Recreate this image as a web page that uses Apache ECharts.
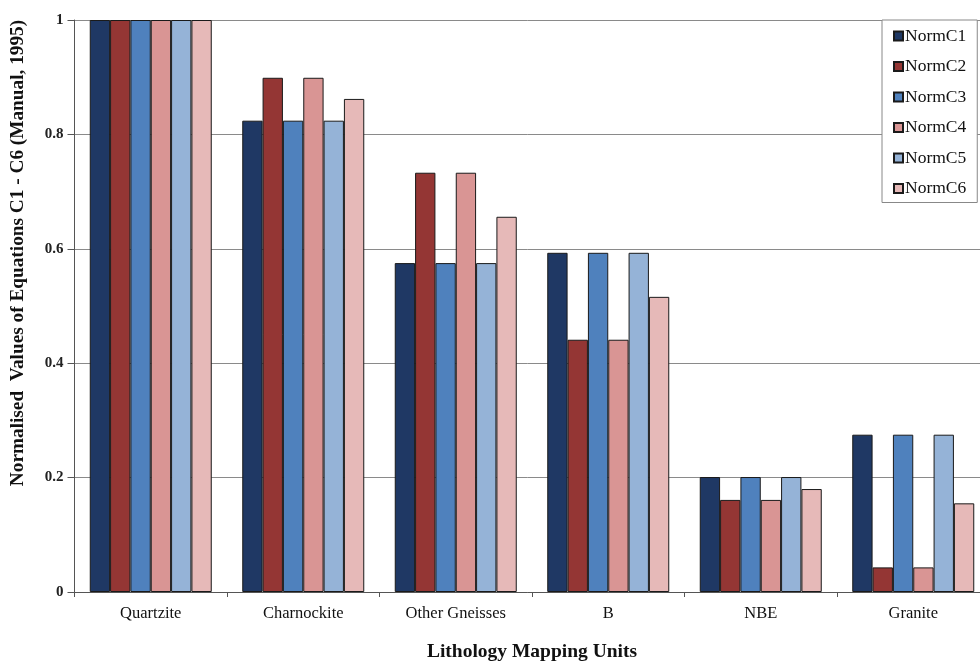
<!DOCTYPE html>
<html><head><meta charset="utf-8">
<script src="https://cdn.jsdelivr.net/npm/echarts@6/dist/echarts.min.js"></script>
<style>html,body{margin:0;padding:0;background:#fff}#c{width:980px;height:661px}</style>
</head><body><div id="c"></div>
<script>
const categories = ['Quartzite', 'Charnockite', 'Other Gneisses', 'B', 'NBE', 'Granite'];
const seriesNames = ['NormC1', 'NormC2', 'NormC3', 'NormC4', 'NormC5', 'NormC6'];
const normC1 = [1, 0.824, 0.575, 0.593, 0.201, 0.275];
const normC2 = [1, 0.899, 0.733, 0.441, 0.161, 0.043];
const normC3 = [1, 0.824, 0.575, 0.593, 0.201, 0.275];
const normC4 = [1, 0.899, 0.733, 0.441, 0.161, 0.043];
const normC5 = [1, 0.824, 0.575, 0.593, 0.201, 0.275];
const normC6 = [1, 0.862, 0.656, 0.516, 0.180, 0.155];
const yTicks = [0, 0.2, 0.4, 0.6, 0.8, 1];

const colors = ['#1f3864', '#943634', '#4f81bd', '#d99594', '#95b3d7', '#e6b9b8'];
const values = [normC1, normC2, normC3, normC4, normC5, normC6];
const font = 'Liberation Serif';

const chart = echarts.init(document.getElementById('c'), null, {renderer: 'canvas'});
chart.setOption({
  animation: false,
  backgroundColor: '#fff',
  grid: {left: 74.5, top: 20, width: 915, height: 572, containLabel: false, outerBoundsMode: 'none'},
  legend: {
    orient: 'vertical', left: 882, top: 20,
    data: seriesNames,
    itemWidth: 9, itemHeight: 9, itemGap: 12.5,
    padding: [7, 11, 5, 11],
    backgroundColor: '#fff', borderColor: '#888', borderWidth: 1,
    textStyle: {fontFamily: font, fontSize: 17.5, color: '#111', padding: [0, 0, 0, -3]},
    icon: 'rect'
  },
  xAxis: {
    type: 'category', data: categories,
    axisLine: {lineStyle: {color: '#555', width: 1}},
    axisTick: {show: true, length: 5, lineStyle: {color: '#555'}},
    axisLabel: {fontFamily: font, fontSize: 16.5, color: '#111', margin: 13},
    name: 'Lithology Mapping Units', nameLocation: 'middle', nameGap: 50,
    nameTextStyle: {fontFamily: font, fontSize: 19.5, fontWeight: 'bold', color: '#111'}
  },
  yAxis: {
    type: 'value', min: 0, max: 1, interval: 0.2,
    axisLine: {show: true, lineStyle: {color: '#555'}},
    axisTick: {show: true, length: 7, lineStyle: {color: '#555'}},
    splitLine: {lineStyle: {color: '#8a8a8a', width: 1}},
    axisLabel: {fontFamily: font, fontSize: 15, fontWeight: 'bold', color: '#222', margin: 11,
      formatter: v => String(+v.toFixed(1))},
    name: 'Normalised  Values of Equations C1 - C6 (Manual, 1995)', nameLocation: 'middle', nameGap: 47,
    nameTextStyle: {fontFamily: font, fontSize: 19.3, fontWeight: 'bold', color: '#111', padding: [0, 0, 0, 106]}
  },
  series: seriesNames.map((n, i) => ({
    name: n, type: 'bar', data: values[i],
    barGap: '0%', barCategoryGap: '20%',
    itemStyle: {color: colors[i], borderColor: '#1a1a1a', borderWidth: 1}
  }))
});
</script></body></html>
